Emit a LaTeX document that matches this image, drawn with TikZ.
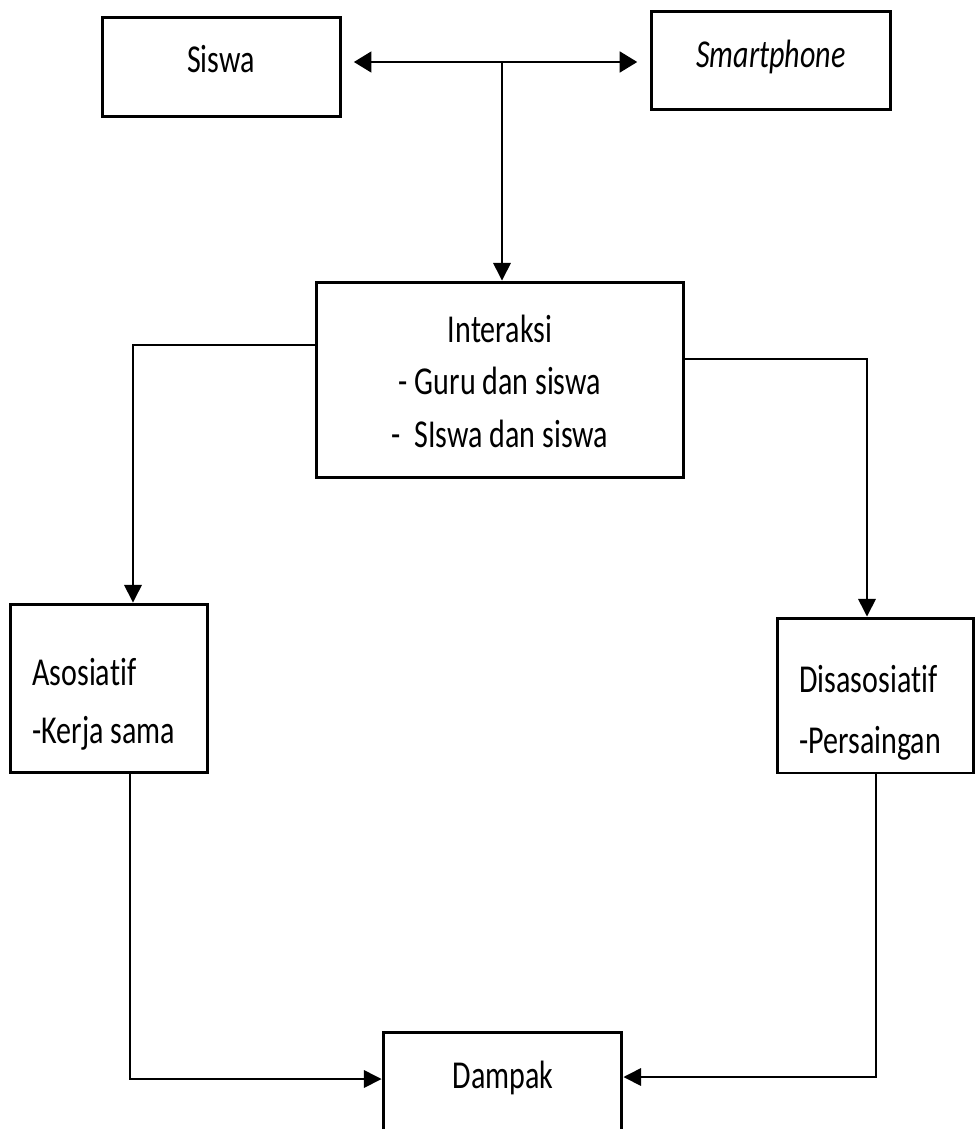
\documentclass[tikz,border=0pt]{standalone}
\usepackage{fontspec}
\setmainfont{Carlito}[FakeStretch=0.76, Ligatures=NoCommon]
\usetikzlibrary{arrows.meta,positioning}

\begin{document}
\begin{tikzpicture}[x=0.02cm, y=-0.02cm,
  box/.style={draw, line width=1.7pt, inner sep=0pt},
  txt/.style={inner sep=0pt, font=\fontsize{22.5}{29.8}\selectfont},
  arr/.style={-{Triangle[length=10pt,width=10pt]}, line width=0.85pt},
  dbl/.style={{Triangle[length=10pt,width=12pt]}-{Triangle[length=10pt,width=12pt]}, line width=0.85pt},
]
  \useasboundingbox (0,0) rectangle (976,1129);

  % boxes
  \node[box, minimum width=4.78cm, minimum height=2.00cm] (siswa) at (221.5,67) {};
  \node[box, minimum width=4.80cm, minimum height=1.98cm] (phone) at (771,60.5) {};
  \node[box, minimum width=7.36cm, minimum height=3.92cm] (inter) at (500,380) {};
  \node[box, minimum width=3.96cm, minimum height=3.38cm] (asos)  at (109,688.5) {};
  \node[box, minimum width=3.94cm, minimum height=3.10cm] (disas) at (875.5,695.5) {};
  \node[box, minimum width=4.78cm, minimum height=2.16cm] (dampak) at (502.5,1086) {};

  % texts (base = last line)
  \node[txt, anchor=base] (siswa-t) at (221,72) {Siswa};
  \node[txt, anchor=base] (phone-t) at (771,67) {\itshape Smartphone};
  \node[txt, anchor=base, align=center] (inter-t) at (500,447)
    {Interaksi\\- Guru dan siswa\\-\ \ SIswa dan siswa};
  \node[txt, anchor=base west, align=left,
    font=\fontsize{22.5}{32.9}\selectfont] (asos-t) at (32,743)
    {Asosiatif\\-Kerja sama};
  \node[txt, anchor=base west, align=left,
    font=\fontsize{22.5}{34.6}\selectfont] (disas-t) at (799,753)
    {Disasosiatif\\-Persaingan};
  \node[txt, anchor=base] (dampak-t) at (503,1088) {Dampak};

  % connectors
  \coordinate (hub) at (502,62);
  \draw[dbl, shorten <=6.5pt, shorten >=7pt] (siswa.east |- hub) -- (phone.west |- hub);
  \draw[arr] (hub) -- (hub |- inter.north);
  \draw[arr] ([yshift=0.7cm]inter.west) -| ([xshift=0.48cm]asos.north);
  \draw[arr] ([yshift=0.42cm]inter.east) -| ([xshift=-0.17cm]disas.north);
  \draw[arr] ([xshift=0.42cm]asos.south) |- ([yshift=0.14cm]dampak.west);
  \draw[arr] ([xshift=0.01cm]disas.south) |- ([yshift=0.18cm]dampak.east);
\end{tikzpicture}
\end{document}
